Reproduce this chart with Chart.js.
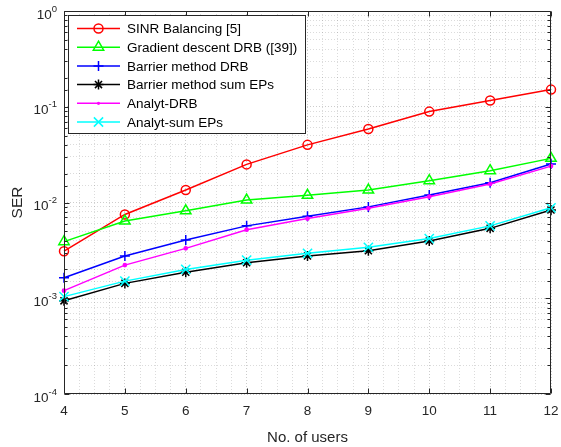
<!DOCTYPE html>
<html>
<head>
<meta charset="utf-8">
<script src="https://cdn.jsdelivr.net/npm/chart.js"></script>
<style>
    body { margin: 0; background: #fff; }
    #wrap { width: 561px; height: 447px; }
</style>
</head>
<body>
<div id="wrap"><canvas id="chart" width="561" height="447"></canvas></div>
<script>
// ══════════════════════════════════════════
// DATA
// ══════════════════════════════════════════

const users = [4, 5, 6, 7, 8, 9, 10, 11, 12];

const sinrBalancing   = [0.0031, 0.0075, 0.0135, 0.025, 0.040, 0.0586, 0.089, 0.116, 0.151];
const gradientDrb     = [0.0039, 0.0064, 0.0082, 0.0106, 0.0119, 0.0135, 0.0169, 0.0215, 0.0289];
const barrierDrb      = [0.00164, 0.00276, 0.00406, 0.0057, 0.0072, 0.0090, 0.0120, 0.0161, 0.0252];
const barrierSumEps   = [0.00094, 0.00143, 0.00187, 0.00235, 0.00276, 0.00314, 0.00396, 0.00537, 0.00835];
const analytDrb       = [0.0012, 0.00222, 0.00332, 0.0052, 0.0068, 0.0087, 0.0115, 0.0156, 0.0240];
const analytSumEps    = [0.00104, 0.00151, 0.0020, 0.0025, 0.00295, 0.0034, 0.0042, 0.0057, 0.0088];

const seriesLabels = [
    'SINR Balancing [5]',
    'Gradient descent DRB ([39])',
    'Barrier method DRB',
    'Barrier method sum EPs',
    'Analyt-DRB',
    'Analyt-sum EPs'
];

const yDecades = [1e-4, 1e-3, 1e-2, 1e-1, 1];
const yDecadeExps = ['-4', '-3', '-2', '-1', '0'];

// ══════════════════════════════════════════
// STYLE
// ══════════════════════════════════════════

const FONT = '"Liberation Sans", Arial, sans-serif';
const AXIS_COLOR = '#262626';

const seriesStyle = [
    { color: '#ff0000', marker: 'circle',   r: 4.5 },
    { color: '#00ff00', marker: 'triangle', r: 6 },
    { color: '#0000ff', marker: 'cross',    r: 5 },
    { color: '#000000', marker: 'star',     r: 5 },
    { color: '#ff00ff', marker: 'dot',      r: 1.6 },
    { color: '#00ffff', marker: 'crossRot', r: 6.5 }
];

const seriesData = [sinrBalancing, gradientDrb, barrierDrb, barrierSumEps, analytDrb, analytSumEps];

const isDecade = v => Math.abs(Math.log10(v) - Math.round(Math.log10(v))) < 1e-9;

// marker drawing used for the legend (same shapes as Chart.js point styles)
function drawMarker(ctx, st, x, y) {
    const r = st.r;
    ctx.save();
    ctx.strokeStyle = st.color;
    ctx.fillStyle = st.color;
    ctx.lineWidth = 1.5;
    ctx.beginPath();
    if (st.marker === 'circle') {
        ctx.arc(x, y, r, 0, Math.PI * 2);
        ctx.stroke();
    } else if (st.marker === 'dot') {
        ctx.arc(x, y, r, 0, Math.PI * 2);
        ctx.fill();
    } else if (st.marker === 'triangle') {
        for (let k = 0; k < 3; k++) {
            const a = k * 2 * Math.PI / 3;
            const px = x + Math.sin(a) * r, py = y - Math.cos(a) * r;
            k === 0 ? ctx.moveTo(px, py) : ctx.lineTo(px, py);
        }
        ctx.closePath();
        ctx.stroke();
    } else {
        if (st.marker === 'cross' || st.marker === 'star') {
            ctx.moveTo(x, y - r); ctx.lineTo(x, y + r);
            ctx.moveTo(x - r, y); ctx.lineTo(x + r, y);
        }
        if (st.marker === 'crossRot' || st.marker === 'star') {
            const d = r * Math.SQRT1_2;
            ctx.moveTo(x - d, y - d); ctx.lineTo(x + d, y + d);
            ctx.moveTo(x - d, y + d); ctx.lineTo(x + d, y - d);
        }
        ctx.stroke();
    }
    ctx.restore();
}

// box, inward ticks, y labels with superscripts and the legend
const matlabFrame = {
    id: 'matlabFrame',
    afterDatasetsDraw(chart) {
        const ctx = chart.ctx;
        const { left, right, top, bottom } = chart.chartArea;
        const xs = chart.scales.x, ys = chart.scales.y;
        const L = Math.round(left) + 0.5, R = Math.round(right) - 0.5;
        const T = Math.round(top) + 0.5, B = Math.round(bottom) - 0.5;

        ctx.save();
        ctx.strokeStyle = AXIS_COLOR;
        ctx.lineWidth = 1;
        ctx.beginPath();
        ctx.rect(L, T, R - L, B - T);

        // x ticks (integers) on bottom and top
        users.forEach(u => {
            const px = Math.round(xs.getPixelForValue(u)) + 0.5;
            ctx.moveTo(px, B); ctx.lineTo(px, B - 5);
            ctx.moveTo(px, T); ctx.lineTo(px, T + 5);
        });
        // y ticks, decades long, minors short
        ys.ticks.forEach(t => {
            const py = Math.round(ys.getPixelForValue(t.value)) + 0.5;
            const len = isDecade(t.value) ? 5 : 3;
            ctx.moveTo(L, py); ctx.lineTo(L + len, py);
            ctx.moveTo(R, py); ctx.lineTo(R - len, py);
        });
        ctx.stroke();

        // y tick labels: 10 with superscript exponent
        ctx.fillStyle = AXIS_COLOR;
        ctx.textBaseline = 'middle';
        ctx.textAlign = 'right';
        yDecades.forEach((v, i) => {
            const py = ys.getPixelForValue(v);
            ctx.font = '9.5px ' + FONT;
            const supW = ctx.measureText(yDecadeExps[i]).width;
            const xEnd = 57;
            ctx.fillText(yDecadeExps[i], xEnd, py - 2);
            ctx.font = '13.5px ' + FONT;
            ctx.fillText('10', xEnd - supW, py + 4);
        });

        // legend
        const lx = 68.5, ly = 15.5, lw = 237, lh = 118;
        ctx.fillStyle = '#ffffff';
        ctx.fillRect(lx, ly, lw, lh);
        ctx.strokeStyle = AXIS_COLOR;
        ctx.strokeRect(lx, ly, lw, lh);
        ctx.font = '13.5px ' + FONT;
        ctx.textAlign = 'left';
        ctx.textBaseline = 'middle';
        chart.data.datasets.forEach((ds, i) => {
            const st = seriesStyle[i];
            const y = 28.5 + i * 18.7;
            ctx.strokeStyle = st.color;
            ctx.lineWidth = 1.5;
            ctx.beginPath();
            ctx.moveTo(77, y); ctx.lineTo(120, y);
            ctx.stroke();
            drawMarker(ctx, st, 98.5, y);
            ctx.fillStyle = '#000000';
            ctx.fillText(ds.label, 127, y + 1);
        });
        ctx.restore();
    }
};

const datasets = seriesData.map((d, i) => {
    const st = seriesStyle[i];
    return {
        label: seriesLabels[i],
        data: d,
        borderColor: st.color,
        borderWidth: 1.5,
        pointStyle: st.marker === 'dot' ? 'circle' : st.marker,
        pointRadius: st.r,
        pointBorderWidth: 1.5,
        pointBorderColor: st.color,
        pointBackgroundColor: st.marker === 'dot' ? st.color : 'rgba(0,0,0,0)',
        tension: 0,
        fill: false,
        clip: false,
        order: seriesData.length - i
    };
});

new Chart(document.getElementById('chart'), {
    type: 'line',
    data: { labels: users, datasets },
    options: {
        responsive: false,
        animation: false,
        layout: { padding: { left: 0, right: 10, top: 11, bottom: 0 } },
        plugins: { legend: { display: false }, tooltip: { enabled: false } },
        scales: {
            x: {
                type: 'linear',
                min: 4,
                max: 12,
                afterFit: s => { s.height = 53; s.paddingRight = 0; s.paddingLeft = 0; },
                ticks: {
                    stepSize: 0.25,
                    autoSkip: false,
                    maxRotation: 0,
                    padding: 9,
                    color: AXIS_COLOR,
                    font: { family: FONT, size: 13.5 },
                    callback: v => Number.isInteger(v) ? String(v) : ''
                },
                grid: {
                    drawTicks: false,
                    lineWidth: 1,
                    color: c => Number.isInteger(c.tick && c.tick.value) ? 'rgba(0,0,0,0.2)' : 'rgba(0,0,0,0.14)'
                },
                border: { display: false, dash: [1, 2] },
                title: {
                    display: true,
                    text: 'No. of users',
                    color: AXIS_COLOR,
                    font: { family: FONT, size: 15 },
                    padding: { top: 0, bottom: 0 }
                }
            },
            y: {
                type: 'logarithmic',
                min: 1e-4,
                max: 1,
                afterFit: s => { s.width = 64; s.paddingTop = 0; s.paddingBottom = 0; },
                ticks: { display: false, autoSkip: false },
                grid: {
                    drawTicks: false,
                    lineWidth: 1,
                    color: c => (c.tick && isDecade(c.tick.value)) ? 'rgba(0,0,0,0.2)' : 'rgba(0,0,0,0.14)'
                },
                border: { display: false, dash: [1, 2] },
                title: {
                    display: true,
                    text: 'SER',
                    color: AXIS_COLOR,
                    font: { family: FONT, size: 15.5 },
                    padding: { top: 8, bottom: 0 }
                }
            }
        }
    },
    plugins: [matlabFrame]
});
</script>
</body>
</html>
